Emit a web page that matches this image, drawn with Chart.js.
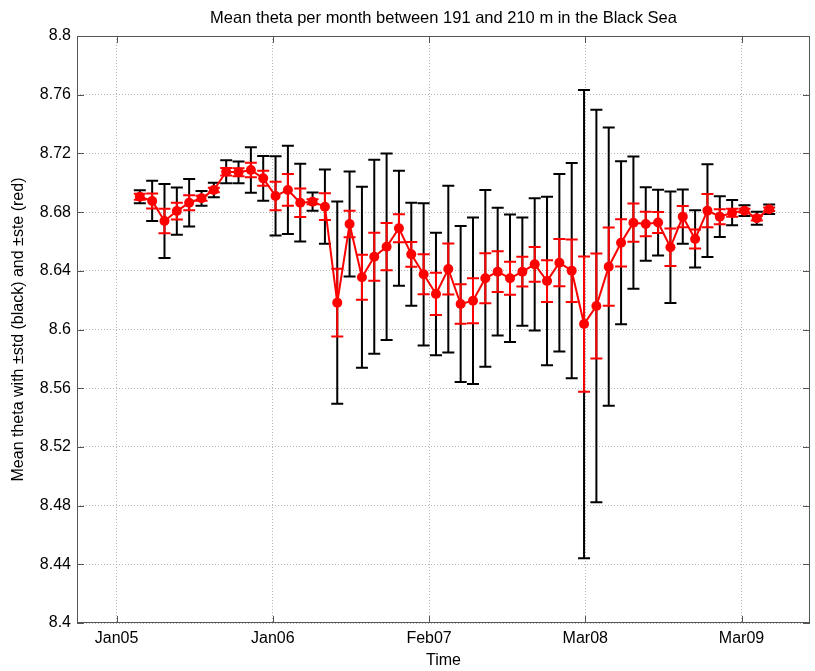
<!DOCTYPE html>
<html>
<head>
<meta charset="utf-8">
<title>Mean theta per month</title>
<script src="https://cdn.jsdelivr.net/npm/chart.js@4.4.0/dist/chart.umd.min.js"></script>
<style>
  html, body { margin: 0; padding: 0; background: #fff; }
  #wrap { width: 815px; height: 671px; }
</style>
</head>
<body>
<div id="wrap"><canvas id="myChart" width="815" height="671"></canvas></div>
<script>
// monthly means between 191 and 210 m
const months = [
  "2005-03", "2005-04", "2005-05", "2005-06", "2005-07", "2005-08", "2005-09", "2005-10", "2005-11", "2005-12",
  "2006-01", "2006-02", "2006-03", "2006-04", "2006-05", "2006-06", "2006-07", "2006-08", "2006-09", "2006-10", "2006-11", "2006-12",
  "2007-01", "2007-02", "2007-03", "2007-04", "2007-05", "2007-06", "2007-07", "2007-08", "2007-09", "2007-10", "2007-11", "2007-12",
  "2008-01", "2008-02", "2008-03", "2008-04", "2008-05", "2008-06", "2008-07", "2008-08", "2008-09", "2008-10", "2008-11", "2008-12",
  "2009-01", "2009-02", "2009-03", "2009-04", "2009-05", "2009-06"
];
const thetaMean = [
  8.6905, 8.6876, 8.6739, 8.6807, 8.6864, 8.6894, 8.6951, 8.7075, 8.7071, 8.7087,
  8.7030, 8.6910, 8.6951, 8.6864, 8.6871, 8.6837, 8.6183, 8.6719, 8.6356, 8.6496, 8.6564, 8.6690,
  8.6512, 8.6376, 8.6242, 8.6412, 8.6174, 8.6196, 8.6349, 8.6394, 8.6349, 8.6394, 8.6444, 8.6330,
  8.6455, 8.6401, 8.6037, 8.6160, 8.6428, 8.6591, 8.6728, 8.6719, 8.6729, 8.6560, 8.6769, 8.6617,
  8.6810, 8.6769, 8.6796, 8.6810, 8.6758, 8.6819
];
const thetaStd = [
  0.0044, 0.0137, 0.0252, 0.0161, 0.0162, 0.0050, 0.0049, 0.0078, 0.0074, 0.0155,
  0.0153, 0.0270, 0.0301, 0.0265, 0.0062, 0.0253, 0.0689, 0.0358, 0.0617, 0.0661, 0.0636, 0.0392,
  0.0351, 0.0485, 0.0418, 0.0568, 0.0532, 0.0568, 0.0602, 0.0435, 0.0434, 0.0369, 0.0451, 0.0574,
  0.0605, 0.0733, 0.1595, 0.1337, 0.0948, 0.0556, 0.0451, 0.0251, 0.0224, 0.0380, 0.0185, 0.0195,
  0.0316, 0.0139, 0.0086, 0.0037, 0.0045, 0.0032
];
const thetaSte = [
  0.0020, 0.0051, 0.0083, 0.0057, 0.0051, 0.0017, 0.0015, 0.0026, 0.0027, 0.0050,
  0.0051, 0.0097, 0.0108, 0.0097, 0.0017, 0.0091, 0.0231, 0.0091, 0.0153, 0.0163, 0.0161, 0.0096,
  0.0085, 0.0136, 0.0144, 0.0174, 0.0135, 0.0153, 0.0170, 0.0139, 0.0113, 0.0101, 0.0119, 0.0142,
  0.0161, 0.0213, 0.0461, 0.0358, 0.0267, 0.0161, 0.0130, 0.0083, 0.0072, 0.0128, 0.0073, 0.0065,
  0.0113, 0.0051, 0.0027, 0.0012, 0.0015, 0.0012
];
// x unit: months since Jan 2005
const xTickValues = [0.12, 12.78, 25.44, 38.10, 50.76];
const xTickLabels = ["Jan05", "Jan06", "Feb07", "Mar08", "Mar09"];
const yTickValues = [8.4, 8.44, 8.48, 8.52, 8.56, 8.6, 8.64, 8.68, 8.72, 8.76, 8.8];
const chartTitle = "Mean theta per month between 191 and 210 m in the Black Sea";

function monthToX(s) {
  const parts = s.split("-");
  return (parseInt(parts[0]) - 2005) * 12 + (parseInt(parts[1]) - 1);
}
const monthX = months.map(monthToX);
const points = monthX.map((x, i) => ({ x: x, y: thetaMean[i] }));

function drawBars(ctx, xs, ys, err, color, cap) {
  ctx.save();
  ctx.strokeStyle = color;
  ctx.lineWidth = 2;
  ctx.beginPath();
  for (let i = 0; i < monthX.length; i++) {
    const px = xs.getPixelForValue(monthX[i]);
    const top = ys.getPixelForValue(thetaMean[i] + err[i]);
    const bot = ys.getPixelForValue(thetaMean[i] - err[i]);
    ctx.moveTo(px, top); ctx.lineTo(px, bot);
    ctx.moveTo(px - cap, top); ctx.lineTo(px + cap, top);
    ctx.moveTo(px - cap, bot); ctx.lineTo(px + cap, bot);
  }
  ctx.stroke();
  ctx.restore();
}

const errorBars = {
  id: "errorBars",
  beforeDatasetsDraw(chart) {
    const { ctx, scales } = chart;
    drawBars(ctx, scales.x, scales.y, thetaStd, "#000", 6);
    drawBars(ctx, scales.x, scales.y, thetaSte, "#f00", 6);
  }
};

// matlab style box with inner tick marks, title centred over the axes
const axesBox = {
  id: "axesBox",
  afterDatasetsDraw(chart) {
    const { ctx, chartArea: a, scales } = chart;
    const tl = 7;
    ctx.save();
    ctx.strokeStyle = "#555";
    ctx.lineWidth = 1;
    ctx.strokeRect(a.left + 0.5, a.top + 0.5, a.right - a.left - 1, a.bottom - a.top - 1);
    ctx.beginPath();
    xTickValues.forEach(v => {
      const px = Math.round(scales.x.getPixelForValue(v)) + 0.5;
      ctx.moveTo(px, a.bottom); ctx.lineTo(px, a.bottom - tl);
      ctx.moveTo(px, a.top); ctx.lineTo(px, a.top + tl);
    });
    yTickValues.forEach(v => {
      const py = Math.round(scales.y.getPixelForValue(v)) + 0.5;
      ctx.moveTo(a.left, py); ctx.lineTo(a.left + tl, py);
      ctx.moveTo(a.right, py); ctx.lineTo(a.right - tl, py);
    });
    ctx.stroke();

    ctx.fillStyle = "#000";
    ctx.font = "16.5px 'Liberation Sans', Arial, sans-serif";
    ctx.textAlign = "center";
    ctx.textBaseline = "middle";
    ctx.fillText(chartTitle, (a.left + a.right) / 2, 18);
    ctx.restore();
  }
};

Chart.defaults.font.family = "'Liberation Sans', Arial, sans-serif";
Chart.defaults.font.size = 16;
Chart.defaults.color = "#000";

new Chart("myChart", {
  type: "line",
  data: {
    datasets: [
      {
        data: points,
        borderColor: "#f00",
        backgroundColor: "#f00",
        borderWidth: 2,
        pointRadius: 5,
        pointBorderWidth: 0,
        tension: 0,
      },
    ],
  },
  options: {
    responsive: false,
    animation: false,
    devicePixelRatio: 1,
    events: [],
    layout: { padding: { left: 0, right: 3, top: 36, bottom: 0 } },
    plugins: {
      legend: { display: false },
      tooltip: { enabled: false },
      title: { display: false },
    },
    scales: {
      x: {
        type: "linear",
        min: -3.09,
        max: 56.31,
        afterFit: s => { s.height = 48; },
        afterBuildTicks: s => { s.ticks = xTickValues.map(v => ({ value: v })); },
        ticks: {
          padding: 6.4,
          maxRotation: 0,
          callback: (v, i) => xTickLabels[i],
        },
        grid: { color: "#b4b4b4", lineWidth: 1, drawTicks: false },
        border: { display: false, dash: [1, 2] },
        title: {
          display: true,
          text: "Time",
          font: { size: 16 },
          padding: { top: 0, bottom: 1 },
        },
      },
      y: {
        type: "linear",
        min: 8.4,
        max: 8.8,
        afterFit: s => { s.width = 77; },
        afterBuildTicks: s => { s.ticks = yTickValues.map(v => ({ value: v })); },
        ticks: {
          padding: 6,
          callback: v => String(Number(v.toFixed(2))),
        },
        grid: { color: "#b4b4b4", lineWidth: 1, drawTicks: false },
        border: { display: false, dash: [1, 2] },
        title: {
          display: true,
          text: "Mean theta with ±std (black) and ±ste (red)",
          font: { size: 16 },
          padding: { top: 9, bottom: 0 },
        },
      },
    },
  },
  plugins: [errorBars, axesBox],
});
</script>
</body>
</html>
